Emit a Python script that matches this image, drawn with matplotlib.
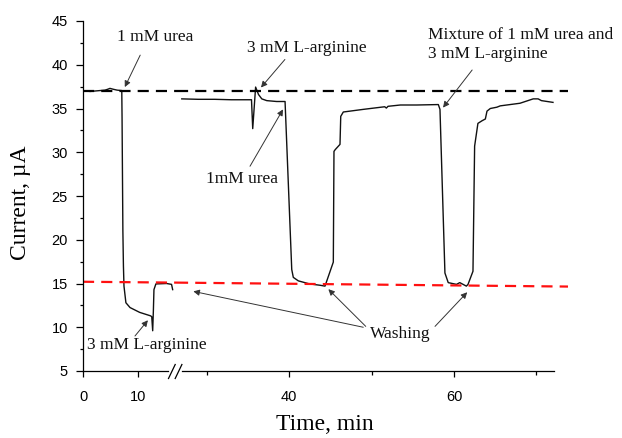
import matplotlib
matplotlib.use("Agg")
import matplotlib.pyplot as plt
from matplotlib.lines import Line2D
from matplotlib.ticker import FixedLocator, NullFormatter

# ---------------- data ----------------
# first segment (before the axis break), time in min, current in uA
seg1_time = [0, 0.4, 1.3, 2.2, 3.1, 4.0, 4.5, 4.9, 5.5, 6.2, 7.0, 7.05, 7.1, 7.18, 7.25,
             7.35, 7.45, 7.8, 8.55, 10.3, 12.3, 12.5, 12.67, 12.8, 12.9, 13.25, 15.2,
             16.1, 16.3]
seg1_current = [37.0, 37.0, 36.95, 37.0, 37.05, 37.1, 37.2, 37.3, 37.2, 37.1, 37.05, 37.05,
                34.0, 27.0, 21.0, 17.0, 14.7, 12.8, 12.25, 11.7, 11.3, 11.2, 9.6, 12.0,
                14.3, 14.95, 15.0, 14.9, 14.3]

# second segment (after the axis break)
seg2_time = [27.0, 29.0, 31.0, 33.0, 35.0, 35.45, 35.6, 35.95, 36.3, 36.7, 37.3, 38.5,
             39.52, 40.33, 40.52, 41.13, 42.5, 43.76, 44.36, 45.37, 45.45, 45.6, 46.18,
             46.27, 46.58, 47.39, 49.0, 51.6, 51.8, 52.0, 53.5, 55.5, 58.1, 58.3, 58.9,
             59.3, 60.3, 60.7, 60.9, 61.1, 61.5, 61.7, 62.3, 62.5, 62.9, 63.4, 63.8,
             64.0, 64.4, 65.2, 65.6, 68.0, 69.6, 70.2, 70.6, 72.0]
seg2_current = [36.1, 36.05, 36.05, 36.0, 36.0, 36.0, 32.7, 37.45, 36.6, 36.1, 35.9, 35.8,
                35.8, 16.6, 15.7, 15.3, 14.95, 14.8, 14.7, 17.45, 30.1, 30.3, 30.9,
                34.1, 34.6, 34.7, 34.9, 35.2, 35.05, 35.25, 35.4, 35.4, 35.45, 34.9, 16.2,
                15.1, 14.9, 15.1, 15.0, 14.9, 14.7, 14.9, 16.4, 30.7, 33.3, 33.6, 33.8,
                34.7, 35.0, 35.15, 35.3, 35.6, 36.1, 36.1, 35.9, 35.7]

# reference (dashed) levels
upper_level = 37.05
lower_level_start = 15.2
lower_level_break = 15.1
lower_level_end = 14.65

y_ticks = [5, 10, 15, 20, 25, 30, 35, 40, 45]
x1_ticks = [0, 10]
x2_major_ticks = [40, 60]
x2_minor_ticks = [30, 50, 70]

# ---------------- layout ----------------
W, H = 622, 438
fig = plt.figure(figsize=(W / 100, H / 100), dpi=100)

def fx(px):
    return px / W

def fy(py):
    return 1 - py / H

ax_bottom_px, ax_top_px = 371, 21
ax1_l, ax1_r = 83, 177
ax2_l, ax2_r = 177, 568

ax1 = fig.add_axes([fx(ax1_l), fy(ax_bottom_px), fx(ax1_r - ax1_l), (ax_bottom_px - ax_top_px) / H])
ax2 = fig.add_axes([fx(ax2_l), fy(ax_bottom_px), fx(ax2_r - ax2_l), (ax_bottom_px - ax_top_px) / H],
                   sharey=ax1)
for a in (ax1, ax2):
    a.patch.set_alpha(0)

x1_lim = (0, 17.09)
x2_lim = (26.42, 73.82)
ax1.set_xlim(*x1_lim)
ax2.set_xlim(*x2_lim)
ax1.set_ylim(5, 45)

line_kw = dict(color="#111111", lw=1.0, solid_joinstyle="round")
ax1.plot(seg1_time, seg1_current, **line_kw)
ax2.plot(seg2_time, seg2_current, **line_kw)

dash_kw = dict(lw=1.6, dashes=(5.0, 3.2))
ax1.plot(x1_lim, [upper_level, upper_level], color="black", **dash_kw)
ax2.plot(x2_lim, [upper_level, upper_level], color="black", **dash_kw)
ax1.plot(x1_lim, [lower_level_start, lower_level_break], color="#ff1010", **dash_kw)
ax2.plot(x2_lim, [lower_level_break, lower_level_end], color="#ff1010", **dash_kw)

tick_font = dict(family=["Liberation Sans", "DejaVu Sans"], size=10.5)
serif = ["Liberation Serif", "DejaVu Serif"]

for a in (ax1, ax2):
    a.spines["top"].set_visible(False)
    a.spines["right"].set_visible(False)
    a.spines["bottom"].set_linewidth(0.9)
    a.spines["left"].set_linewidth(0.9)
    a.tick_params(which="major", direction="out", length=4.5, width=0.9, pad=9.5,
                  labelsize=10.5)
    a.tick_params(which="minor", direction="out", length=3.2, width=0.9)
    for lab in a.get_xticklabels() + a.get_yticklabels():
        lab.set_family(tick_font["family"])

ax2.spines["left"].set_visible(False)
ax2.tick_params(axis="y", which="both", left=False, labelleft=False)

ax1.yaxis.set_major_locator(FixedLocator(y_ticks))
ax1.yaxis.set_minor_locator(FixedLocator([v + 2.5 for v in y_ticks[:-1]]))
ax1.tick_params(axis="y", which="major", pad=6, length=4.8)
ax1.tick_params(axis="y", which="minor", length=2.5)
ax1.xaxis.set_major_locator(FixedLocator(x1_ticks))
ax2.xaxis.set_major_locator(FixedLocator(x2_major_ticks))
ax2.xaxis.set_minor_locator(FixedLocator(x2_minor_ticks))
ax2.xaxis.set_minor_formatter(NullFormatter())

for lab in ax1.get_xticklabels() + ax1.get_yticklabels() + ax2.get_xticklabels():
    lab.set_family(tick_font["family"])
    lab.set_fontsize(10.5)

# spine bounds around the break
ax1.spines["bottom"].set_bounds(0, (168 - ax1_l) / (ax1_r - ax1_l) * x1_lim[1])
px_per_min2 = (ax2_r - ax2_l) / (x2_lim[1] - x2_lim[0])
ax2.spines["bottom"].set_bounds(x2_lim[0] + (182 - ax2_l) / px_per_min2,
                                x2_lim[0] + (554 - ax2_l) / px_per_min2)

# break marks "//"
for x0 in (168.5, 175.2):
    fig.add_artist(Line2D([fx(x0), fx(x0 + 6.7)], [fy(378.5), fy(364.5)],
                          color="black", lw=0.9))

# axis labels
fig.text(fx(21), fy(203), "Current, µA", rotation=90, ha="center", va="center",
         family=serif, fontsize=17)
fig.text(fx(325), fy(425), "Time, min", ha="center", va="center",
         family=serif, fontsize=17)

# ---------------- annotations ----------------
arrow_kw = dict(arrowstyle="-|>", color="#333333", lw=0.7, mutation_scale=9,
                shrinkA=0, shrinkB=0)
ann_font = dict(family=serif, fontsize=12.5, color="#111111")

def arrow(ax, tip, tail):
    ax.annotate("", xy=tip, xytext=tail, arrowprops=arrow_kw, annotation_clip=False)

ax1.text(13.1, 43.2, "1 mM urea", ha="center", va="center", **ann_font)
arrow(ax1, (7.6, 37.45), (10.4, 41.1))

ax2.text(42.1, 41.9, "3 mM L-arginine", ha="center", va="center", **ann_font)
arrow(ax2, (36.6, 37.4), (39.5, 40.6))

ax2.text(34.24, 26.9, "1mM urea", ha="center", va="center", **ann_font)
arrow(ax2, (39.27, 34.9), (35.27, 28.4))

ax2.text(56.85, 42.3, "Mixture of 1 mM urea and\n3 mM L-arginine", ha="left",
         va="center", linespacing=1.3, **ann_font)
arrow(ax2, (58.67, 35.1), (62.2, 39.4))

ax1.text(0.73, 7.96, "3 mM L-arginine", ha="left", va="center", **ann_font)
arrow(ax1, (11.8, 10.8), (9.45, 9.0))

ax2.text(53.5, 9.2, "Washing", ha="center", va="center", **ann_font)
arrow(ax2, (28.4, 14.1), (49.0, 10.0))
arrow(ax2, (44.77, 14.35), (49.3, 10.1))
arrow(ax2, (61.6, 14.0), (57.7, 10.1))

fig.savefig("out.png", dpi=100)
